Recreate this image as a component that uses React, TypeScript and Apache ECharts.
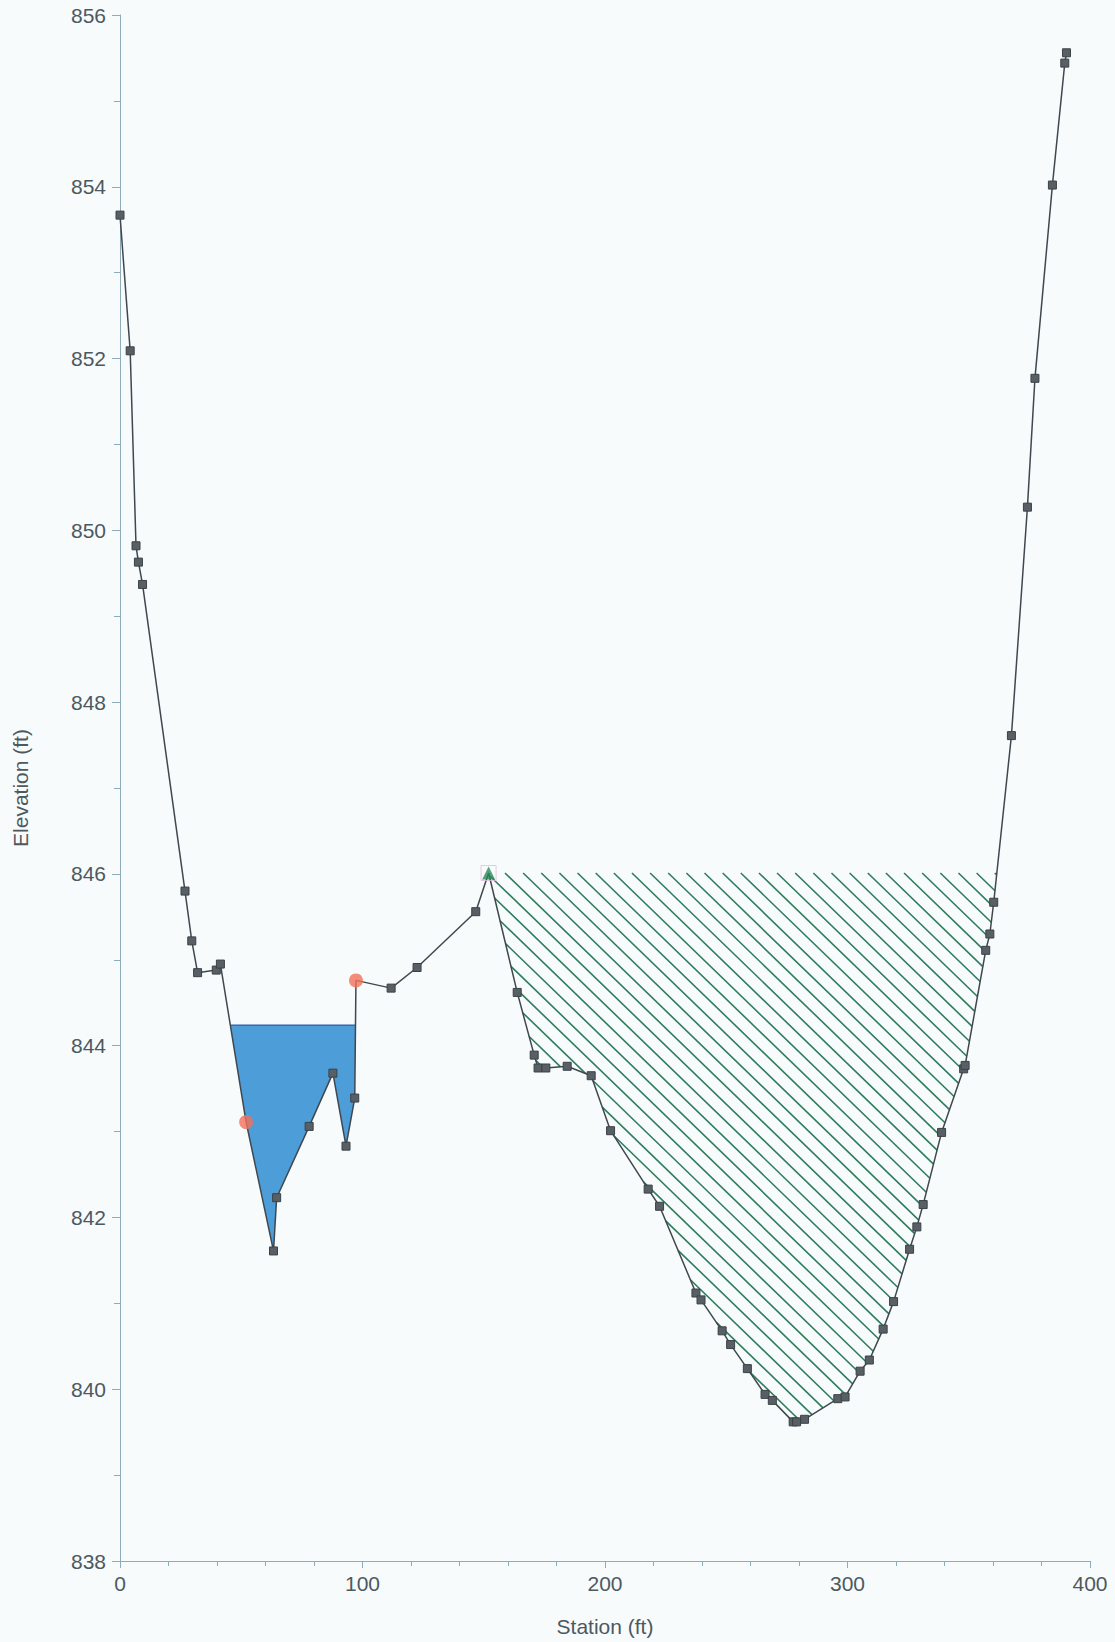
import React, { useEffect, useRef } from "react";
import * as echarts from "echarts";

// Ground profile (station ft, elevation ft)
const groundStation = [
  0, 4.2, 6.6, 7.6, 9.3, 26.8, 29.6, 32.0, 39.7, 41.4,
  52.0, 63.3, 64.6, 78.0, 87.8, 93.2, 96.8, 97.3, 111.8, 122.5,
  146.7, 152.0, 163.8, 170.8, 172.4, 175.6, 184.4, 194.3, 202.3, 217.8,
  222.5, 237.5, 239.6, 248.3, 251.8, 258.7, 266.0, 269.0, 277.6, 279.0,
  282.3, 296.0, 299.0, 305.2, 309.0, 314.7, 319.0, 325.6, 328.6, 331.2,
  338.8, 347.9, 348.5, 357.0, 358.7, 360.3, 367.6, 374.2, 377.3, 384.5,
  389.6, 390.3,
];
const groundElevation = [
  853.67, 852.09, 849.82, 849.63, 849.37, 845.80, 845.22, 844.85, 844.88, 844.95,
  843.11, 841.61, 842.23, 843.06, 843.68, 842.83, 843.39, 844.76, 844.67, 844.91,
  845.56, 846.01, 844.62, 843.89, 843.74, 843.74, 843.76, 843.65, 843.01, 842.33,
  842.13, 841.12, 841.04, 840.68, 840.52, 840.24, 839.94, 839.87, 839.62, 839.62,
  839.65, 839.89, 839.91, 840.21, 840.34, 840.70, 841.02, 841.63, 841.89, 842.15,
  842.99, 843.73, 843.77, 845.11, 845.30, 845.67, 847.61, 850.27, 851.77, 854.02,
  855.44, 855.56,
];

const bankStations = [52.0, 97.3];
const leveeStations = [152.0];

const waterSurface = 844.24;
const waterSearchFrom = 41.4;
const ineffectiveElevation = 846.01;
const ineffectiveFrom = 152.0;

const xMin = 0, xMax = 400, xInterval = 100;
const yMin = 838, yMax = 856, yInterval = 2;

function elevAt(s: number): number {
  const i = groundStation.indexOf(s);
  return groundElevation[i];
}

function regionBelow(level: number, fromStation: number): number[][] {
  const pts: number[][] = [];
  const n = groundStation.length;
  const i0 = groundStation.findIndex((s) => s >= fromStation);
  let started = false;
  for (let k = i0; k < n - 1; k++) {
    const x1 = groundStation[k], y1 = groundElevation[k];
    const x2 = groundStation[k + 1], y2 = groundElevation[k + 1];
    if (!started) {
      if (y1 <= level + 1e-9) {
        pts.push([x1, level]);
        started = true;
      } else if (y2 < level) {
        const t = (y1 - level) / (y1 - y2);
        pts.push([x1 + t * (x2 - x1), level]);
        started = true;
      } else continue;
    }
    if (y2 >= level) {
      const t = (level - y1) / (y2 - y1);
      pts.push([x1 + t * (x2 - x1), level]);
      break;
    }
    pts.push([x2, y2]);
  }
  return pts;
}

const waterPoly = regionBelow(waterSurface, waterSearchFrom);
const ineffPoly = regionBelow(ineffectiveElevation, ineffectiveFrom);

export default function App() {
  const ref = useRef<HTMLDivElement>(null);
  useEffect(() => {
    if (!ref.current) return;
    const chart = echarts.init(ref.current, null, { renderer: "svg" });
    const special = new Set([...bankStations, ...leveeStations]);
    const axisColor = "#8eabb9";
    const labelColor = "#4c5961";
    const font = "'Liberation Sans', Arial, sans-serif";
    const option: any = {
      animation: false,
      backgroundColor: "#f8fbfc",
      grid: { left: 120, right: 25, top: 15, bottom: 81 },
      xAxis: {
        type: "value",
        min: xMin,
        max: xMax,
        interval: xInterval,
        name: "Station (ft)",
        nameLocation: "middle",
        nameGap: 55,
        nameTextStyle: { color: labelColor, fontSize: 21, fontFamily: font },
        axisLine: { show: true, lineStyle: { color: axisColor, width: 1 } },
        axisTick: { show: true, length: 7, lineStyle: { color: axisColor } },
        minorTick: { show: true, splitNumber: 5, length: 5, lineStyle: { color: axisColor } },
        splitLine: { show: false },
        axisLabel: { color: labelColor, fontSize: 21, fontFamily: font, margin: 12 },
      },
      yAxis: {
        type: "value",
        min: yMin,
        max: yMax,
        interval: yInterval,
        name: "Elevation (ft)",
        nameLocation: "middle",
        nameGap: 89,
        nameTextStyle: { color: labelColor, fontSize: 21, fontFamily: font },
        axisLine: { show: true, lineStyle: { color: axisColor, width: 1 } },
        axisTick: { show: true, length: 8, lineStyle: { color: axisColor } },
        minorTick: { show: true, splitNumber: 2, length: 6, lineStyle: { color: axisColor } },
        splitLine: { show: false },
        axisLabel: { color: labelColor, fontSize: 21, fontFamily: font, margin: 14 },
      },
      series: [
        {
          type: "custom",
          name: "water",
          coordinateSystem: "cartesian2d",
          silent: true,
          z: 1,
          data: [[waterPoly[0][0], waterSurface]],
          renderItem: (params: any, api: any) => {
            const pts = waterPoly.map((p) => api.coord(p));
            const a = pts[0], b = pts[pts.length - 1];
            return {
              type: "group",
              children: [
                { type: "polygon", shape: { points: pts }, style: { fill: "#4d9dd9", stroke: "none" } },
                {
                  type: "line",
                  shape: { x1: a[0], y1: a[1], x2: b[0], y2: b[1] },
                  style: { stroke: "#2d5ea8", lineWidth: 1.3 },
                },
              ],
            };
          },
        },
        {
          type: "custom",
          name: "ineffective",
          coordinateSystem: "cartesian2d",
          silent: true,
          z: 1,
          data: [[ineffPoly[0][0], ineffectiveElevation]],
          renderItem: (params: any, api: any) => {
            const pts = ineffPoly.map((p) => api.coord(p));
            const ang = (44 * Math.PI) / 180;
            const d = [Math.cos(ang), Math.sin(ang)];
            const nr = [-Math.sin(ang), Math.cos(ang)];
            const sp = 12.6;
            const vs = pts.map((p: number[]) => p[0] * nr[0] + p[1] * nr[1]);
            const us = pts.map((p: number[]) => p[0] * d[0] + p[1] * d[1]);
            const vmin = Math.min(...vs), vmax = Math.max(...vs);
            const children: any[] = [];
            for (let v = Math.ceil(vmin / sp) * sp; v <= vmax; v += sp) {
              const cross: number[] = [];
              for (let k = 0; k < pts.length; k++) {
                const j = (k + 1) % pts.length;
                const va = vs[k], vb = vs[j];
                if ((va <= v && vb > v) || (vb <= v && va > v)) {
                  const t = (v - va) / (vb - va);
                  cross.push(us[k] + t * (us[j] - us[k]));
                }
              }
              cross.sort((a, b) => a - b);
              for (let c = 0; c + 1 < cross.length; c += 2) {
                const u1 = cross[c], u2 = cross[c + 1];
                children.push({
                  type: "line",
                  shape: {
                    x1: d[0] * u1 + nr[0] * v,
                    y1: d[1] * u1 + nr[1] * v,
                    x2: d[0] * u2 + nr[0] * v,
                    y2: d[1] * u2 + nr[1] * v,
                  },
                  style: { stroke: "#2f7d5c", lineWidth: 1.6 },
                });
              }
            }
            return { type: "group", children };
          },
        },
        {
          type: "line",
          name: "Ground",
          z: 3,
          symbol: "rect",
          symbolSize: 8,
          showSymbol: true,
          lineStyle: { color: "#3e484e", width: 1.5 },
          itemStyle: { color: "#596065", borderColor: "#3b4247", borderWidth: 1 },
          data: groundStation.map((s, i) =>
            special.has(s)
              ? { value: [s, groundElevation[i]], symbol: "none" }
              : [s, groundElevation[i]]
          ),
        },
        {
          type: "scatter",
          name: "Bank Sta",
          z: 4,
          symbol: "circle",
          symbolSize: 14,
          itemStyle: { color: "#f2705a" },
          data: bankStations.map((s) => [s, elevAt(s)]),
        },
        {
          type: "scatter",
          name: "Levee outline",
          z: 4,
          symbol: "rect",
          symbolSize: 15,
          itemStyle: { color: "rgba(0,0,0,0)", borderColor: "#e2bcd6", borderWidth: 1 },
          data: leveeStations.map((s) => [s, elevAt(s)]),
        },
        {
          type: "scatter",
          name: "Levee",
          z: 5,
          symbol: "triangle",
          symbolSize: 13,
          itemStyle: { color: "#2e8a5e" },
          data: leveeStations.map((s) => [s, elevAt(s)]),
        },
      ],
    };
    chart.setOption(option);
    return () => chart.dispose();
  }, []);
  return (
    <div
      ref={ref}
      style={{ position: "absolute", left: 0, top: 0, width: 1115, height: 1642, background: "#f8fbfc" }}
    />
  );
}
